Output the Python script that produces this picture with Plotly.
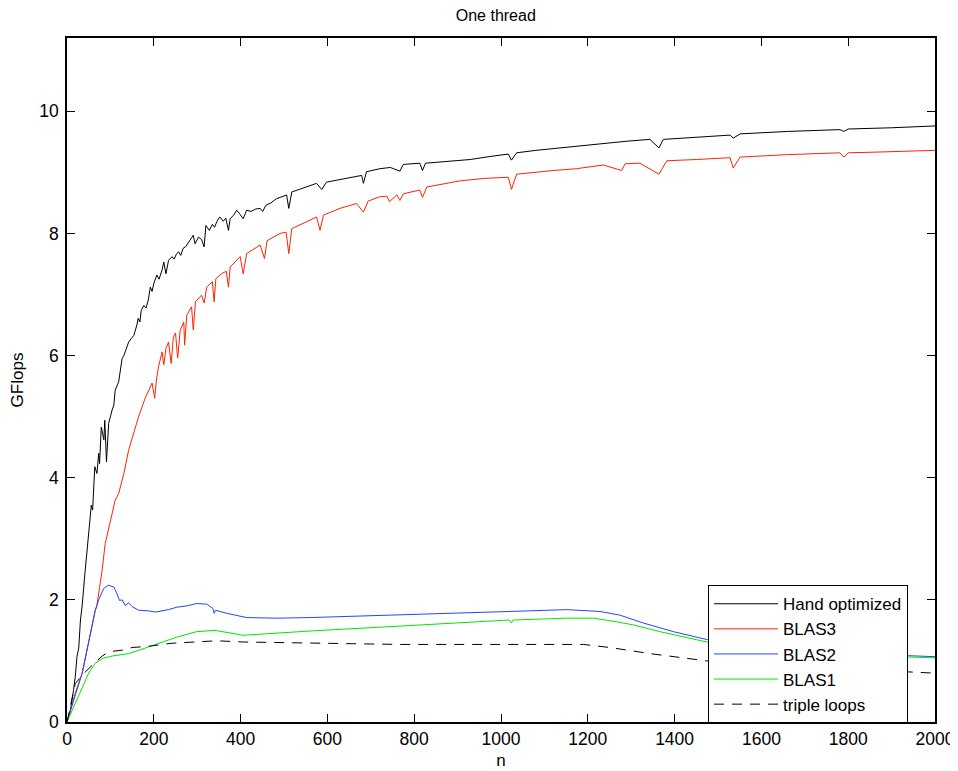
import plotly.graph_objects as go

# ---- data ----
hand_n = [0, 8, 15, 19, 23, 27, 31, 35, 41, 46, 50, 56, 59, 64, 69, 73, 75, 79, 85, 87, 91, 96, 104, 108, 111, 119, 127, 131, 136, 142, 148, 154, 161, 164, 168, 171, 177, 182, 187, 192, 196, 200, 207, 212, 219, 223, 228, 234, 242, 247, 252, 257, 262, 268, 273, 280, 288, 291, 295, 303, 310, 316, 320, 328, 335, 340, 345, 352, 360, 366, 372, 376, 384, 391, 398, 406, 414, 424, 435, 445, 451, 458, 470, 483, 495, 506, 511, 518, 535, 552, 565, 575, 587, 598, 620, 644, 662, 679, 683, 690, 721, 745, 767, 775, 813, 819, 826, 870, 929, 975, 1017, 1024, 1036, 1080, 1120, 1180, 1236, 1290, 1343, 1364, 1374, 1450, 1528, 1535, 1551, 1660, 1781, 1790, 1800, 1900, 2000]
hand_v = [0, 0.2, 0.52, 0.74, 1.07, 1.21, 1.67, 1.91, 2.41, 2.76, 3.06, 3.55, 3.47, 4.18, 4.07, 4.4, 4.23, 4.83, 4.62, 4.94, 4.26, 4.89, 5.11, 5.19, 5.43, 5.57, 5.95, 6.0, 6.1, 6.22, 6.28, 6.33, 6.5, 6.61, 6.55, 6.74, 6.82, 6.78, 6.9, 7.12, 7.05, 7.18, 7.32, 7.25, 7.4, 7.53, 7.34, 7.56, 7.62, 7.58, 7.66, 7.7, 7.64, 7.76, 7.78, 7.85, 7.92, 7.97, 7.83, 7.94, 7.9, 7.78, 8.13, 8.05, 8.15, 8.1, 8.19, 8.27, 8.2, 8.25, 8.05, 8.24, 8.3, 8.38, 8.32, 8.24, 8.38, 8.36, 8.4, 8.41, 8.36, 8.46, 8.5, 8.57, 8.6, 8.63, 8.41, 8.68, 8.72, 8.76, 8.8, 8.82, 8.72, 8.84, 8.87, 8.9, 8.93, 8.95, 8.82, 9.01, 9.06, 9.08, 9.02, 9.13, 9.15, 9.03, 9.15, 9.18, 9.21, 9.26, 9.3, 9.2, 9.32, 9.36, 9.39, 9.43, 9.47, 9.51, 9.54, 9.4, 9.54, 9.58, 9.61, 9.56, 9.63, 9.67, 9.7, 9.67, 9.71, 9.73, 9.76]

blas3_n = [0, 35, 65, 69, 75, 81, 88, 100, 111, 119, 131, 142, 150, 165, 180, 196, 202, 206, 211, 219, 223, 228, 234, 240, 245, 250, 255, 261, 269, 271, 276, 287, 291, 296, 310, 316, 322, 335, 339, 343, 356, 367, 372, 376, 399, 406, 414, 445, 455, 461, 491, 505, 511, 518, 552, 575, 583, 591, 629, 667, 683, 694, 721, 737, 743, 760, 767, 775, 813, 819, 829, 905, 960, 1017, 1024, 1036, 1120, 1174, 1236, 1278, 1286, 1320, 1364, 1382, 1450, 1528, 1535, 1551, 1660, 1781, 1790, 1800, 1857, 2000]
blas3_v = [0, 0.8, 1.83, 1.91, 2.2, 2.49, 2.92, 3.31, 3.63, 3.74, 4.07, 4.45, 4.65, 5.0, 5.3, 5.55, 5.3, 5.6, 5.82, 6.06, 5.85, 6.12, 6.22, 5.87, 6.3, 6.37, 5.96, 6.42, 6.55, 6.17, 6.66, 6.8, 6.42, 6.88, 6.99, 6.86, 7.12, 7.21, 6.88, 7.26, 7.34, 7.38, 7.12, 7.45, 7.62, 7.34, 7.67, 7.81, 7.59, 7.88, 8.0, 8.02, 7.67, 8.08, 8.19, 8.27, 8.05, 8.3, 8.41, 8.49, 8.35, 8.53, 8.6, 8.61, 8.52, 8.63, 8.54, 8.65, 8.71, 8.59, 8.76, 8.86, 8.9, 8.92, 8.72, 8.97, 9.03, 9.06, 9.12, 9.03, 9.14, 9.15, 8.97, 9.19, 9.21, 9.24, 9.07, 9.25, 9.29, 9.32, 9.25, 9.32, 9.33, 9.36]

blas2_n = [0, 19, 35, 50, 65, 73, 85, 95, 102, 108, 115, 121, 127, 134, 142, 150, 165, 188, 204, 234, 253, 275, 299, 322, 336, 339, 342, 368, 414, 483, 560, 767, 1021, 1151, 1190, 1228, 1274, 1328, 1397, 1474, 1600, 1800, 2000]
blas2_v = [0, 0.47, 0.8, 1.29, 1.82, 2.0, 2.19, 2.24, 2.22, 2.21, 2.1, 1.99, 2.0, 1.91, 1.95, 1.89, 1.83, 1.82, 1.8, 1.84, 1.88, 1.9, 1.94, 1.93, 1.86, 1.78, 1.83, 1.78, 1.71, 1.7, 1.71, 1.75, 1.81, 1.84, 1.83, 1.81, 1.75, 1.62, 1.48, 1.35, 1.22, 1.12, 1.07]

blas1_n = [0, 19, 35, 50, 65, 81, 104, 142, 180, 219, 253, 299, 329, 341, 406, 483, 560, 767, 1019, 1024, 1028, 1151, 1213, 1267, 1305, 1366, 1458, 1474, 1600, 1800, 2000]
blas1_v = [0, 0.31, 0.58, 0.8, 0.96, 1.04, 1.08, 1.12, 1.21, 1.31, 1.39, 1.48, 1.49, 1.5, 1.42, 1.46, 1.49, 1.57, 1.67, 1.62, 1.67, 1.7, 1.7, 1.64, 1.59, 1.48, 1.34, 1.31, 1.2, 1.1, 1.05]

triple_n = [0, 19, 42, 58, 81, 96, 131, 150, 188, 242, 288, 345, 406, 521, 767, 998, 1190, 1251, 1343, 1420, 1474, 1700, 2000]
triple_v = [0, 0.63, 0.82, 0.93, 1.08, 1.15, 1.18, 1.22, 1.24, 1.29, 1.31, 1.33, 1.31, 1.3, 1.27, 1.27, 1.27, 1.22, 1.12, 1.05, 1.0, 0.9, 0.8]

x_ticks = [0, 200, 400, 600, 800, 1000, 1200, 1400, 1600, 1800, 2000]
y_ticks = [0, 2, 4, 6, 8, 10]

FONT = "Liberation Sans, Arial, Helvetica, sans-serif"

fig = go.Figure()
series = [
    ("Hand optimized", hand_n, hand_v, "#000000", "solid"),
    ("BLAS3", blas3_n, blas3_v, "#ff2200", "solid"),
    ("BLAS2", blas2_n, blas2_v, "#2244ff", "solid"),
    ("BLAS1", blas1_n, blas1_v, "#00e600", "solid"),
    ("triple loops", triple_n, triple_v, "#000000", "10px,8px"),
]
for name, xs, ys, col, dash in series:
    fig.add_trace(go.Scatter(x=xs, y=ys, mode="lines", name=name,
                             line=dict(color=col, width=1, dash=dash)))

axis_common = dict(showgrid=False, zeroline=False, showline=True, linecolor="black",
                   linewidth=1.5, mirror="allticks", ticks="inside", ticklen=8,
                   tickcolor="black", tickwidth=1, automargin=False,
                   tickfont=dict(family=FONT, size=17.5, color="black"))

# the page body has an 8px margin, so the figure is 8px smaller than the window
W, H = 950, 763
fig.update_layout(
    width=W, height=H,
    margin=dict(l=59, r=23, t=30, b=49),
    paper_bgcolor="white", plot_bgcolor="white",
    title=dict(text="One thread", x=0.494, xanchor="center", xref="paper",
               y=1 - 7 / H, yanchor="middle", yref="container",
               font=dict(family=FONT, size=16, color="black")),
    xaxis=dict(range=[0, 2000], tickvals=x_ticks,
               title=dict(text="n", font=dict(family=FONT, size=17, color="black"), standoff=6),
               **axis_common),
    yaxis=dict(range=[0, 11.2], tickvals=y_ticks, ticklabelstandoff=3,
               title=dict(text="GFlops", font=dict(family=FONT, size=17, color="black"), standoff=12),
               **axis_common),
    legend=dict(x=0.7385, y=0.2, xanchor="left", yanchor="top",
                bgcolor="white", bordercolor="black", borderwidth=1,
                font=dict(family=FONT, size=17, color="black"),
                itemwidth=64, tracegroupgap=0),
    showlegend=True,
)

fig.write_html("out.html")
